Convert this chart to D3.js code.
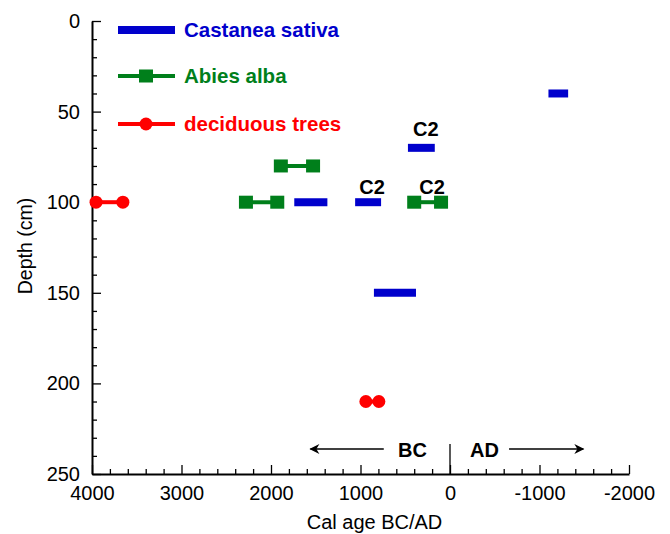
<!DOCTYPE html>
<html>
<head>
<meta charset="utf-8">
<script src="https://cdn.jsdelivr.net/npm/d3@7"></script>
<style>
  body { margin: 0; background: #fff; }
  text { font-family: 'Liberation Sans', Arial, sans-serif; }
  .axis path, .axis line { stroke: #000; }
  .axis path { stroke-width: 2; }
  .axis line { stroke-width: 1.3; }
  .axis text { font-size: 20px; fill: #000; }
</style>
</head>
<body>
<div id="chart"></div>
<script>
// data: ages in cal years (positive = BC), depth in cm
let castanea = [
  { depth: 40, from: -1100, to: -1320 },
  { depth: 70, from: 470, to: 170 },
  { depth: 100, from: 1740, to: 1370 },
  { depth: 100, from: 1060, to: 770 },
  { depth: 150, from: 850, to: 380 }
]
let abies = [
  { depth: 80, from: 1890, to: 1530 },
  { depth: 100, from: 2280, to: 1930 },
  { depth: 100, from: 400, to: 100 }
]
let deciduous = [
  { depth: 100, from: 3955, to: 3655 },
  { depth: 210, from: 940, to: 795 }
]
let c2Labels = [
  { depth: 70, age: 270 },
  { depth: 100, age: 870 },
  { depth: 100, age: 200 }
]
let xTicks = [4000, 3000, 2000, 1000, 0, -1000, -2000]
let yTicks = [0, 50, 100, 150, 200, 250]
let legendItems = ['Castanea sativa', 'Abies alba', 'deciduous trees']

let margin = { top: 21, left: 92, right: 41, bottom: 60 }
let width = 670 - margin.left - margin.right
let height = 534 - margin.top - margin.bottom

let svg = d3
  .select('#chart')
  .append('svg')
  .attr('width', 670)
  .attr('height', 534)
  .append('g')
  .attr('transform', 'translate(' + margin.left + ',' + margin.top + ')')

let xPositionScale = d3.scaleLinear().domain([4000, -2000]).range([0, width])
let yPositionScale = d3.scaleLinear().domain([0, 250]).range([0, height])

let blue = '#0000cc'
let green = '#007f1b'
let red = '#ff0000'

// minor ticks
svg
  .append('g')
  .attr('class', 'axis')
  .attr('transform', 'translate(0,' + height + ')')
  .call(
    d3.axisBottom(xPositionScale)
      .tickValues(d3.range(4000, -2001, -200).filter(d => d % 1000 !== 0))
      .tickSize(-5)
      .tickFormat('')
  )
  .select('.domain')
  .remove()

svg
  .append('g')
  .attr('class', 'axis')
  .call(
    d3.axisLeft(yPositionScale)
      .tickValues(d3.range(0, 251, 10).filter(d => d % 50 !== 0))
      .tickSize(-5)
      .tickFormat('')
  )
  .select('.domain')
  .remove()

// major axes
let xAxis = d3
  .axisBottom(xPositionScale)
  .tickValues(xTicks)
  .tickSize(-9)
  .tickSizeOuter(0)
  .tickPadding(10)
  .tickFormat(d => String(d))
svg
  .append('g')
  .attr('class', 'axis x-axis')
  .attr('transform', 'translate(0,' + height + ')')
  .call(xAxis)

let yAxis = d3
  .axisLeft(yPositionScale)
  .tickValues(yTicks)
  .tickSize(-9)
  .tickSizeOuter(0)
  .tickPadding(12)
svg
  .append('g')
  .attr('class', 'axis y-axis')
  .call(yAxis)

svg.selectAll('.x-axis text').attr('dy', '0.8em')

// axis titles
svg
  .append('text')
  .attr('x', width / 2 + 14)
  .attr('y', height + 55)
  .attr('text-anchor', 'middle')
  .style('font-size', '20px')
  .text('Cal age BC/AD')

svg
  .append('text')
  .attr('transform', 'translate(' + -60.5 + ',' + (height / 2 - 1.5) + ') rotate(-90)')
  .attr('text-anchor', 'middle')
  .style('font-size', '19.5px')
  .text('Depth (cm)')

// Castanea sativa bars
svg
  .selectAll('.castanea')
  .data(castanea)
  .enter()
  .append('line')
  .attr('class', 'castanea')
  .attr('x1', d => xPositionScale(d.from))
  .attr('x2', d => xPositionScale(d.to))
  .attr('y1', d => yPositionScale(d.depth))
  .attr('y2', d => yPositionScale(d.depth))
  .attr('stroke', blue)
  .attr('stroke-width', 8)

// Abies alba
svg
  .selectAll('.abies-line')
  .data(abies)
  .enter()
  .append('line')
  .attr('class', 'abies-line')
  .attr('x1', d => xPositionScale(d.from))
  .attr('x2', d => xPositionScale(d.to))
  .attr('y1', d => yPositionScale(d.depth))
  .attr('y2', d => yPositionScale(d.depth))
  .attr('stroke', green)
  .attr('stroke-width', 4)

let abiesPoints = abies.flatMap(d => [
  { depth: d.depth, age: d.from },
  { depth: d.depth, age: d.to }
])
svg
  .selectAll('.abies-point')
  .data(abiesPoints)
  .enter()
  .append('rect')
  .attr('class', 'abies-point')
  .attr('x', d => xPositionScale(d.age) - 7)
  .attr('y', d => yPositionScale(d.depth) - 6.5)
  .attr('width', 14)
  .attr('height', 13)
  .attr('fill', green)

// deciduous trees
svg
  .selectAll('.decid-line')
  .data(deciduous)
  .enter()
  .append('line')
  .attr('class', 'decid-line')
  .attr('x1', d => xPositionScale(d.from))
  .attr('x2', d => xPositionScale(d.to))
  .attr('y1', d => yPositionScale(d.depth))
  .attr('y2', d => yPositionScale(d.depth))
  .attr('stroke', red)
  .attr('stroke-width', 4)

let decidPoints = deciduous.flatMap(d => [
  { depth: d.depth, age: d.from },
  { depth: d.depth, age: d.to }
])
svg
  .selectAll('.decid-point')
  .data(decidPoints)
  .enter()
  .append('circle')
  .attr('class', 'decid-point')
  .attr('cx', d => xPositionScale(d.age))
  .attr('cy', d => yPositionScale(d.depth))
  .attr('r', 6.5)
  .attr('fill', red)

// C2 labels
svg
  .selectAll('.c2')
  .data(c2Labels)
  .enter()
  .append('text')
  .attr('class', 'c2')
  .attr('x', d => xPositionScale(d.age))
  .attr('y', d => yPositionScale(d.depth) - (d.depth === 70 ? 12 : 8))
  .attr('text-anchor', 'middle')
  .style('font-size', '20px')
  .style('font-weight', 'bold')
  .text('C2')

// BC / AD annotation
let arrowY = 428
svg
  .append('defs')
  .append('marker')
  .attr('id', 'arrow')
  .attr('viewBox', '0 0 10 10')
  .attr('refX', 9)
  .attr('refY', 5)
  .attr('markerWidth', 15)
  .attr('markerHeight', 10)
  .attr('markerUnits', 'userSpaceOnUse')
  .attr('orient', 'auto')
  .append('path')
  .attr('d', 'M0,0 L10,5 L0,10 L3,5 Z')
  .attr('fill', '#000')

svg
  .append('line')
  .attr('x1', xPositionScale(0))
  .attr('x2', xPositionScale(0))
  .attr('y1', arrowY - 5)
  .attr('y2', height)
  .attr('stroke', '#000')
  .attr('stroke-width', 1.3)

svg
  .append('line')
  .attr('x1', xPositionScale(740))
  .attr('x2', xPositionScale(1560))
  .attr('y1', arrowY)
  .attr('y2', arrowY)
  .attr('stroke', '#000')
  .attr('stroke-width', 1.5)
  .attr('marker-end', 'url(#arrow)')

svg
  .append('line')
  .attr('x1', xPositionScale(-660))
  .attr('x2', xPositionScale(-1490))
  .attr('y1', arrowY)
  .attr('y2', arrowY)
  .attr('stroke', '#000')
  .attr('stroke-width', 1.5)
  .attr('marker-end', 'url(#arrow)')

svg
  .append('text')
  .attr('x', xPositionScale(420))
  .attr('y', arrowY + 8)
  .attr('text-anchor', 'middle')
  .style('font-size', '20px')
  .style('font-weight', 'bold')
  .text('BC')

svg
  .append('text')
  .attr('x', xPositionScale(-385))
  .attr('y', arrowY + 8)
  .attr('text-anchor', 'middle')
  .style('font-size', '20px')
  .style('font-weight', 'bold')
  .text('AD')

// legend
let legendColors = [blue, green, red]
let legend = svg
  .selectAll('.legend')
  .data(legendItems)
  .enter()
  .append('g')
  .attr('class', 'legend')
  .attr('transform', (d, i) => 'translate(26,' + [9, 55, 103][i] + ')')

legend
  .append('line')
  .attr('x1', 0)
  .attr('x2', 57)
  .attr('stroke', (d, i) => legendColors[i])
  .attr('stroke-width', (d, i) => (i === 0 ? 8 : 4))

legend
  .filter((d, i) => i === 1)
  .append('rect')
  .attr('x', 28 - 7)
  .attr('y', -6.5)
  .attr('width', 14)
  .attr('height', 13)
  .attr('fill', green)

legend
  .filter((d, i) => i === 2)
  .append('circle')
  .attr('cx', 28)
  .attr('r', 6.5)
  .attr('fill', red)

legend
  .append('text')
  .attr('x', 66)
  .attr('y', 7)
  .style('font-size', '20.5px')
  .style('font-weight', 'bold')
  .attr('fill', (d, i) => legendColors[i])
  .text(d => d)
</script>
</body>
</html>
